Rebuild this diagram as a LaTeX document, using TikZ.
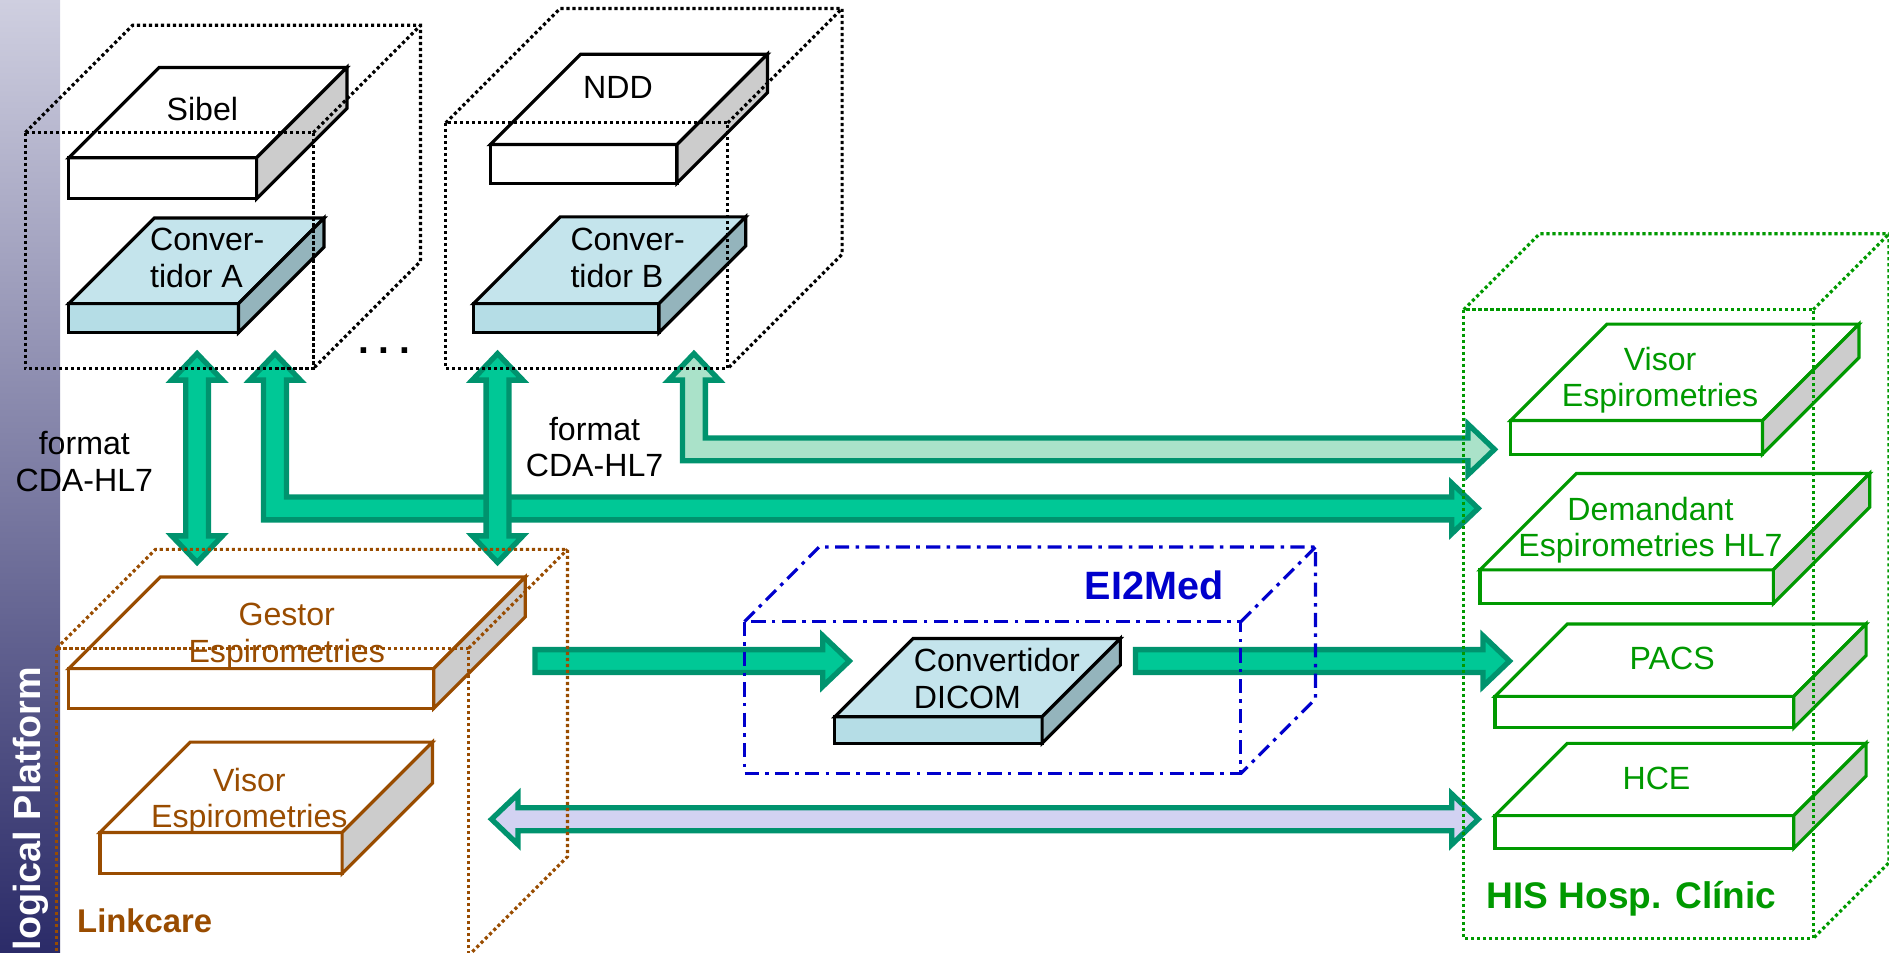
\documentclass[tikz,border=0pt]{standalone}
\usepackage{fontspec}
\setmainfont{Liberation Sans}

\definecolor{marrone}{RGB}{153,76,0}
\definecolor{verde}{RGB}{0,153,0}
\definecolor{blu}{RGB}{0,0,204}
\definecolor{frecciaF}{RGB}{0,200,150}
\definecolor{frecciaB}{RGB}{0,147,110}
\definecolor{frecciaC}{RGB}{170,226,201}
\definecolor{lilla}{RGB}{210,210,242}
\definecolor{azzF}{RGB}{181,221,230}
\definecolor{azzT}{RGB}{196,228,236}
\definecolor{azzL}{RGB}{148,180,188}
\definecolor{grigio}{RGB}{204,204,204}
\definecolor{fasciaA}{RGB}{207,207,224}
\definecolor{fasciaB}{RGB}{43,43,104}

% misure delle frecce
\def\sw{9.5}
\def\hw{21}
\def\hl{22}

% lastra: x1, y1, x2, y2, profondita, bordo, fronte, sopra, lato
\newcommand{\lastra}[9]{%
  \filldraw[lastra, draw=#6, fill=#7] (#1,#2) rectangle (#3,#4);
  \filldraw[lastra, draw=#6, fill=#8] (#1,#2) -- ++(#5,-#5) -- ({#3+#5},{#2-#5}) -- (#3,#2) -- cycle;
  \filldraw[lastra, draw=#6, fill=#9] (#3,#2) -- ({#3+#5},{#2-#5}) -- ({#3+#5},{#4-#5}) -- (#3,#4) -- cycle;
}
% cubo: stile, x1, y1, x2, y2, profondita
\newcommand{\cubo}[6][]{%
  \draw[#1] (#2,#3) rectangle (#4,#5);
  \draw[#1] (#2,#3) -- ++(#6,-#6) -- ({#4+#6},{#3-#6}) -- ({#4+#6},{#5-#6}) -- (#4,#5);
  \draw[#1] (#4,#3) -- ++(#6,-#6);
}
% freccia verticale doppia: x, y punta alta, y punta bassa, stile
\newcommand{\frecciaVV}[4]{%
  \filldraw[#4] (#1,#2) -- ({#1+\hw},{#2+\hl}) -- ({#1+\sw},{#2+\hl}) -- ({#1+\sw},{#3-\hl})
    -- ({#1+\hw},{#3-\hl}) -- (#1,#3) -- ({#1-\hw},{#3-\hl}) -- ({#1-\sw},{#3-\hl})
    -- ({#1-\sw},{#2+\hl}) -- ({#1-\hw},{#2+\hl}) -- cycle;
}
% freccia orizzontale: x coda, x punta, y, stile
\newcommand{\frecciaH}[4]{%
  \filldraw[#4] (#1,{#3-\sw}) -- ({#2-\hl},{#3-\sw}) -- ({#2-\hl},{#3-\hw}) -- (#2,#3)
    -- ({#2-\hl},{#3+\hw}) -- ({#2-\hl},{#3+\sw}) -- (#1,{#3+\sw}) -- cycle;
}
% freccia orizzontale doppia: x punta sinistra, x punta destra, y, stile
\newcommand{\frecciaHH}[4]{%
  \filldraw[#4] (#1,#3) -- ({#1+\hl},{#3-\hw}) -- ({#1+\hl},{#3-\sw}) -- ({#2-\hl},{#3-\sw})
    -- ({#2-\hl},{#3-\hw}) -- (#2,#3) -- ({#2-\hl},{#3+\hw}) -- ({#2-\hl},{#3+\sw})
    -- ({#1+\hl},{#3+\sw}) -- ({#1+\hl},{#3+\hw}) -- cycle;
}
% freccia a L: x asta, y punta alta, y asta orizzontale, x punta destra, stile
\newcommand{\frecciaL}[5]{%
  \filldraw[#5] (#1,#2) -- ({#1+\hw},{#2+\hl}) -- ({#1+\sw},{#2+\hl}) -- ({#1+\sw},{#3-\sw})
    -- ({#4-\hl},{#3-\sw}) -- ({#4-\hl},{#3-\hw}) -- (#4,#3) -- ({#4-\hl},{#3+\hw})
    -- ({#4-\hl},{#3+\sw}) -- ({#1-\sw},{#3+\sw}) -- ({#1-\sw},{#2+\hl}) -- ({#1-\hw},{#2+\hl}) -- cycle;
}

\begin{document}
\begin{tikzpicture}[x=0.012cm, y=-0.012cm,
    testo/.style={font=\fontsize{9.1}{10.4}\selectfont, align=center, inner sep=0pt},
    titolo/.style={font=\fontsize{10.5}{12}\selectfont\bfseries, inner sep=0pt},
    lastra/.style={line width=0.9pt, line join=miter},
    freccia/.style={draw=frecciaB, fill=frecciaF, line width=1.5pt, line join=miter},
    puntini/.style={line width=0.9pt, dash pattern=on 0.9pt off 0.8pt},
    cubonero/.style={puntini, draw=black},
    cubomarrone/.style={puntini, draw=marrone},
    cuboverde/.style={puntini, draw=verde},
    cuboblu/.style={line width=0.9pt, draw=blu, dash pattern=on 4pt off 1.8pt on 1pt off 1.8pt}]
    \useasboundingbox (0,0) rectangle (1568,791);

    % Fascia laterale
    \shade[top color=fasciaA, bottom color=fasciaB] (0,0) rectangle (50,791);
    \node[rotate=90, anchor=base east, text=white, inner sep=0pt,
        font=\fontsize{10.7}{12}\selectfont\bfseries] (piattaforma) at (33.5,553) {logical Platform};

    % Lastre
    \lastra{57}{131}{213}{165}{75}{black}{white}{white}{grigio}
    \lastra{57}{252}{198}{276}{71}{black}{azzF}{azzT}{azzL}
    \lastra{407}{120}{562}{152}{75}{black}{white}{white}{grigio}
    \lastra{393}{252}{547}{276}{72}{black}{azzF}{azzT}{azzL}
    \lastra{57}{555}{360}{588}{76}{marrone}{white}{white}{grigio}
    \lastra{83}{691}{284}{725}{75}{marrone}{white}{white}{grigio}
    \lastra{693}{595}{865}{617}{65}{black}{azzF}{azzT}{azzL}
    \lastra{1254}{349}{1463}{377}{80}{verde}{white}{white}{grigio}
    \lastra{1228.5}{473}{1472}{501}{80}{verde}{white}{white}{grigio}
    \lastra{1241}{578}{1489}{604}{60}{verde}{white}{white}{grigio}
    \lastra{1241}{677}{1489}{704}{60}{verde}{white}{white}{grigio}

    % Frecce
    \frecciaL{228.3}{293.5}{422}{1227}{freccia}
    \frecciaL{576}{293.5}{373}{1240.5}{freccia, fill=frecciaC}
    \frecciaVV{163.6}{293.5}{466.8}{freccia}
    \frecciaVV{413}{293.5}{466.8}{freccia}
    \frecciaH{444}{705}{548.7}{freccia}
    \frecciaH{942.5}{1253}{548.7}{freccia}
    \frecciaHH{408}{1227}{680}{freccia, fill=lilla}

    % Etichette
    \node[testo, anchor=base] (sibel) at (168,100) {Sibel};
    \node[testo, anchor=base] (ndd) at (513,82) {NDD};
    \node[testo, align=left, anchor=west] (convA) at (124,214) {Conver-\\tidor A};
    \node[testo, align=left, anchor=west] (convB) at (473,214) {Conver-\\tidor B};
    \node[testo, align=left, anchor=west] (dicom) at (758,563) {Convertidor\\DICOM};
    \node[testo] (formatA) at (70,383) {format\\CDA-HL7};
    \node[testo] (formatB) at (493.5,371) {format\\CDA-HL7};
    \node[testo, text=marrone] (gestor) at (238,528) {Gestor\\Espirometries};
    \node[testo, text=marrone] (visorA) at (207,665) {Visor\\Espirometries};
    \node[testo, text=verde] (visorB) at (1378,315.5) {Visor\\Espirometries};
    \node[testo, text=verde] (demandant) at (1370,440) {Demandant\\Espirometries HL7};
    \node[testo, text=verde] (pacs) at (1388,546.5) {PACS};
    \node[testo, text=verde] (hce) at (1375,646) {HCE};
    \node[anchor=base, inner sep=0pt, font=\fontsize{11}{12}\selectfont\bfseries] (altri) at (319,293.5) {.\hspace{2.7pt}.\hspace{2.7pt}.};
    \node[titolo, text=marrone, anchor=base west, font=\fontsize{9.3}{11}\selectfont\bfseries] (linkcare) at (63.5,774) {Linkcare};
    \node[titolo, text=blu, anchor=base, font=\fontsize{11.2}{13}\selectfont\bfseries] (ei2med) at (958,498) {EI2Med};
    \node[titolo, text=verde, anchor=base west] (his) at (1233.5,754) {HIS Hosp. Clínic};

    % Cubi
    \cubo[cubonero]{21}{110}{260}{306}{89}
    \cubo[cubonero]{370}{102}{604}{306}{95}
    \cubo[cubomarrone]{47}{538}{389}{793}{82}
    \cubo[cuboblu]{618}{516}{1030}{642}{62}
    \cubo[cuboverde]{1215}{257}{1505}{779}{63}
\end{tikzpicture}
\end{document}
